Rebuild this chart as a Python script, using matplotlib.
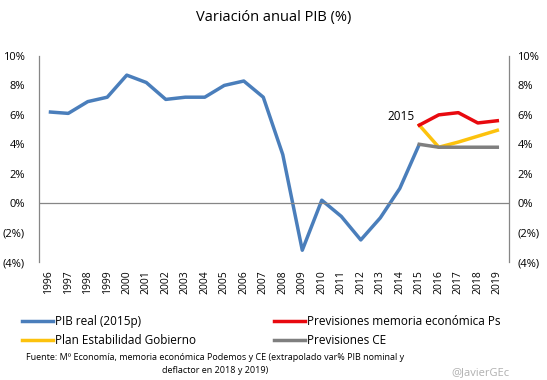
import matplotlib.pyplot as plt
from matplotlib.lines import Line2D
from matplotlib.ticker import FuncFormatter

plt.rcParams['font.family'] = ['Open Sans', 'DejaVu Sans']

years = list(range(1996, 2020))
pib_real = [6.2, 6.1, 6.9, 7.2, 8.7, 8.2, 7.05, 7.2, 7.2, 8.0, 8.3, 7.2,
            3.3, -3.2, 0.2, -0.9, -2.5, -1.0, 1.0, 4.0]
prev_years = [2015, 2016, 2017, 2018, 2019]
prev_ps = [5.3, 6.0, 6.15, 5.45, 5.6]
plan_gob = [5.3, 3.8, 4.15, 4.55, 4.95]
prev_ce = [4.0, 3.8, 3.8, 3.8, 3.8]

c_blue = '#4a7ebb'
c_red = '#e8090f'
c_yellow = '#fcc20d'
c_gray = '#7f7f7f'

fig = plt.figure(figsize=(5.47, 3.80), dpi=100)
ax = fig.add_axes([39 / 547, 1 - 262 / 380, 470 / 547, 206 / 380])

ax.plot(years[:len(pib_real)], pib_real, color=c_blue, lw=2.5, solid_capstyle='butt')
ax.plot(prev_years, plan_gob, color=c_yellow, lw=2.5)
ax.plot(prev_years, prev_ps, color=c_red, lw=2.5)
ax.plot(prev_years, prev_ce, color=c_gray, lw=2.5)
ax.axhline(0, color='#868686', lw=0.9)
ax.text(2014.75, 5.9, '2015', fontsize=8.5, ha='right', va='center')

ax.set_xlim(1995.5, 2019.6)
ax.set_ylim(-4, 10)
ax.set_yticks(range(-4, 11, 2))
pct = FuncFormatter(lambda v, p: f'({abs(v):.0f}%)' if v < 0 else f'{v:.0f}%')
ax.yaxis.set_major_formatter(pct)
ax.set_xticks(years)
ax.set_xticklabels([str(y) for y in years], rotation=90, fontsize=7.5)
ax.tick_params(axis='x', length=0, pad=6)
ax.tick_params(axis='y', length=0, labelsize=8, pad=10)
for s in ['top', 'bottom']:
    ax.spines[s].set_visible(False)
for s in ['left', 'right']:
    ax.spines[s].set_color('#868686')
    ax.spines[s].set_linewidth(0.9)

# right-hand labels
ax2 = ax.twinx()
ax2.set_ylim(ax.get_ylim())
ax2.set_yticks(range(-4, 11, 2))
ax2.yaxis.set_major_formatter(pct)
ax2.tick_params(axis='y', length=0, labelsize=8, pad=6)
for s in ax2.spines.values():
    s.set_visible(False)

fig.text(274 / 547, 1 - 18 / 380, 'Variación anual PIB (%)', ha='center', va='center', fontsize=10.5)

h1 = [Line2D([], [], color=c_blue, lw=2.5), Line2D([], [], color=c_yellow, lw=2.5)]
h2 = [Line2D([], [], color=c_red, lw=2.5), Line2D([], [], color=c_gray, lw=2.5)]
leg_kw = dict(frameon=False, fontsize=8.5, handlelength=2.6, handletextpad=0.2,
              labelspacing=0.55, borderaxespad=0, borderpad=0)
fig.legend(h1, ['PIB real (2015p)', 'Plan Estabilidad Gobierno'],
           loc='upper left', bbox_to_anchor=(22 / 547, 1 - 315 / 380), **leg_kw)
fig.legend(h2, ['Previsiones memoria económica Ps', 'Previsiones CE'],
           loc='upper left', bbox_to_anchor=(274 / 547, 1 - 315 / 380), **leg_kw)

fig.text(215 / 547, 1 - 364 / 380,
         'Fuente: Mº Economía, memoria económica Podemos y CE (extrapolado var% PIB nominal y\n'
         'deflactor en 2018 y 2019)', ha='center', va='center', fontsize=6.5, linespacing=1.45)
fig.text(510 / 547, 1 - 373 / 380, '@JavierGEc', ha='right', va='center', fontsize=8, color='#b0b0b0')

fig.savefig('out.png', dpi=100)
